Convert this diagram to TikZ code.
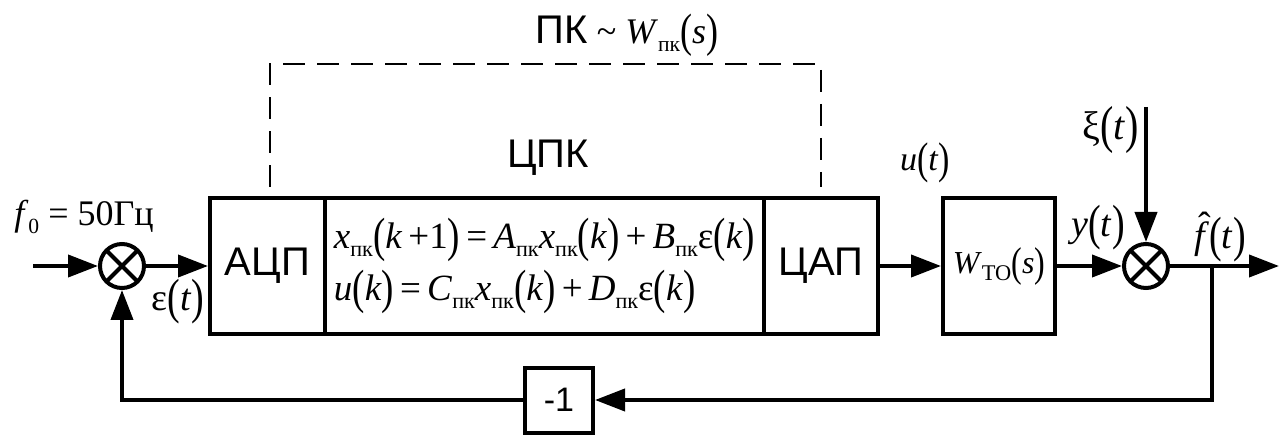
\documentclass[tikz,border=0pt]{standalone}
\usepackage{fontspec}
\setmainfont{Liberation Serif}
\setsansfont{Liberation Sans}
\usepackage{graphicx}
\usetikzlibrary{arrows.meta}

\newcommand{\mi}[1]{\textit{#1}}
\newcommand{\lpar}{\raisebox{-0.08em}{\scalebox{1}[1.3]{(}}}
\newcommand{\rpar}{\raisebox{-0.08em}{\scalebox{1}[1.3]{)}}}
\newcommand{\sbs}[2][0.6]{\raisebox{-0.22em}{\scalebox{#1}{#2}}}
\newcommand{\pk}{\sbs{пк}}
\newcommand{\fhat}{\makebox[0pt][l]{\kern0.12em\raisebox{0.25em}{ˆ}}\mi{f}}

\begin{document}
\begin{tikzpicture}[
  x=1pt, y=-1pt,
  block/.style={rectangle, draw, line width=4pt, minimum height=136pt, inner sep=0pt,
    font=\sffamily\fontsize{40}{44}\selectfont},
  sumnode/.style={circle, draw, line width=4pt, minimum size=44pt, inner sep=0pt,
    path picture={\draw[line width=4pt]
      (path picture bounding box.north west) -- (path picture bounding box.south east)
      (path picture bounding box.north east) -- (path picture bounding box.south west);}},
  arrow/.style={-{Triangle[length=30pt,width=22pt]}, line width=4pt},
  dashbox/.style={line width=2.5pt, dash pattern=on 22pt off 12pt},
  lbl/.style={inner sep=0pt, font=\fontsize{38}{40}\selectfont}
]
\useasboundingbox (0,0) rectangle (1287,435);

% Digital controller
\node[block, minimum width=115pt] (adc) at (267.5,266) {АЦП};
\node[block, minimum width=439pt, align=left, font=\fontsize{37}{52}\selectfont] (law) at (544.5,266)
  {\mi{x}\pk\lpar\mi{k}\,+1\rpar\,=\,\mi{A}\pk\mi{x}\pk\lpar\mi{k}\rpar\,+\,\mi{B}\pk ε\lpar\mi{k}\rpar\\
   \mi{u}\lpar\mi{k}\rpar\,=\,\mi{C}\pk\mi{x}\pk\lpar\mi{k}\rpar\,+\,\mi{D}\pk ε\lpar\mi{k}\rpar};
\node[block, minimum width=114pt] (dac) at (821,266) {ЦАП};
\draw[dashbox] (270,187) -- (270,64) -- (821,64) -- (821,187);
\node[inner sep=0pt, font=\sffamily\fontsize{40}{44}\selectfont] (cpk) at (548,158) {ЦПК};
\node[inner sep=0pt, font=\fontsize{36}{40}\selectfont] (pk) at (627,35)
  {{\sffamily\fontsize{40}{44}\selectfont ПК} \textasciitilde\ \mi{W}\pk\lpar\mi{s}\rpar};

% Plant
\node[block, minimum width=112pt, font=\fontsize{32}{34}\selectfont] (plant) at (999,266)
  {\mi{W}\sbs[0.7]{TO}\lpar\mi{s}\rpar};

% Summing junctions and feedback gain
\node[sumnode] (sum1) at (122,266) {};
\node[sumnode] (sum2) at (1146,266) {};
\node[block, minimum width=68pt, minimum height=65pt, font=\sffamily\fontsize{34}{36}\selectfont] (inv) at (559,400) {-1};

\coordinate (in) at (33,266);
\coordinate (out) at (1279,266);
\coordinate (noise) at (1146,107);
\coordinate (tap) at (1212,266);

% Signals
\draw[arrow] (in) -- (sum1);
\draw[arrow] (sum1) -- (adc);
\draw[arrow] (dac) -- (plant);
\draw[arrow] (plant) -- (sum2);
\draw[arrow] (noise) -- (sum2);
\draw[arrow] (sum2) -- (out);
\draw[arrow] (tap) |- (inv);
\draw[arrow] (inv) -| (sum1);

% Labels
\node[lbl, font=\fontsize{36}{38}\selectfont] (f0) at (84,217) {\mi{f}\sbs{0} = 50Гц};
\node[lbl] (eps) at (178,302) {ε\lpar\mi{t}\rpar};
\node[lbl, font=\fontsize{34}{36}\selectfont] (ut) at (925,163) {\mi{u}\lpar\mi{t}\rpar};
\node[lbl, font=\fontsize{40}{42}\selectfont] (xi) at (1111,130) {ξ\lpar\mi{t}\rpar};
\node[lbl] (yt) at (1098,228) {\mi{y}\lpar\mi{t}\rpar};
\node[lbl] (ft) at (1220,237) {\fhat\lpar\mi{t}\rpar};
\end{tikzpicture}
\end{document}
